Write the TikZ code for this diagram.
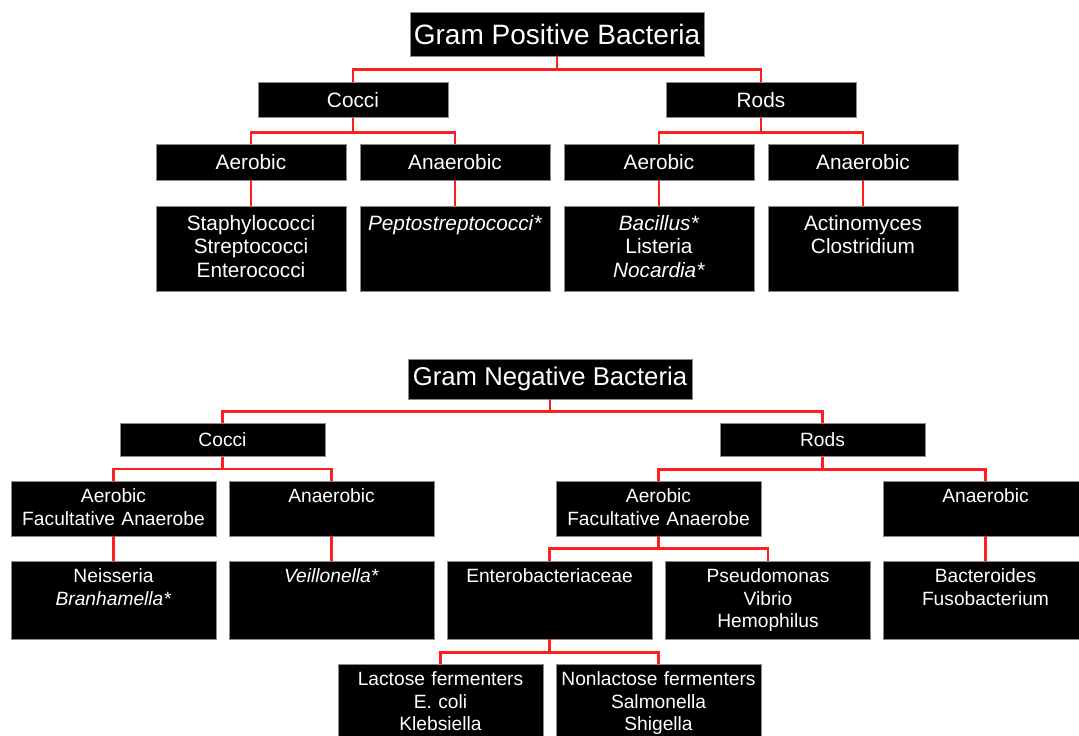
\documentclass[tikz,border=0pt]{standalone}
\usepackage{fontspec}
\setmainfont{Liberation Sans}
\definecolor{gramRed}{HTML}{FF1E1E}
\definecolor{gramEdge}{HTML}{8A8A8A}

\begin{document}
\begin{tikzpicture}[x=1pt, y=-1pt,
		box/.style={draw=gramEdge, line width=0.6pt, fill=black, text=white, inner sep=0pt},
		ptitle/.style={box, minimum width=294pt, minimum height=44pt, font=\fontsize{28}{32}\selectfont},
		ntitle/.style={box, minimum width=284pt, minimum height=40pt, font=\fontsize{25.7}{30}\selectfont},
		pbox/.style={box, minimum width=190pt, font=\fontsize{20.8}{24}\selectfont},
		nbox/.style={box, minimum width=205pt, font=\fontsize{19.2}{22.5}\selectfont},
		ptext/.style={text=white, text width=186pt, align=center, anchor=base, inner sep=0pt, font=\fontsize{20.8}{23.6}\selectfont},
		ntext/.style={text=white, text width=201pt, align=center, anchor=base, inner sep=0pt, font=\fontsize{19.2}{22.5}\selectfont},
		link/.style={gramRed, line width=2.4pt}]
		\clip (0,0) rectangle (1079,736);
		\node[ptitle] (gpb) at (557,34) {Gram Positive Bacteria};
		\node[pbox, minimum height=35pt] (pcocci) at (353,100) {Cocci};
		\node[pbox, minimum height=35pt] (prods) at (761,100) {Rods};
		\foreach \n/\x/\t in {paer/251/Aerobic, pana/455/Anaerobic, praer/659/Aerobic, prana/863/Anaerobic}
			\node[pbox, minimum height=36pt] (\n) at (\x,162) {\t};
		\foreach \n/\x/\t in {pstaph/251/{Staphylococci\\Streptococci\\Enterococci},
				ppep/455/{\textit{Peptostreptococci*}},
				pbac/659/{\textit{Bacillus*}\\Listeria\\\textit{Nocardia*}},
				pact/863/{Actinomyces\\Clostridium}}{
			\node[pbox, minimum height=85pt] (\n) at (\x,249) {};
			\node[ptext] (\n-t) at ([yshift=-24pt]\n.north) {\t};
		}
		\node[ntitle] (gnb) at (550,379) {Gram Negative Bacteria};
		\node[nbox, minimum height=33pt] (ncocci) at (222.5,440) {Cocci};
		\node[nbox, minimum height=33pt] (nrods) at (822.5,440) {Rods};
		\foreach \n/\x/\y/\h/\t in {naer/113.5/508.5/55/{Aerobic\\Facultative Anaerobe},
				nana/331.5/508.5/55/Anaerobic,
				nraer/658.5/508.5/55/{Aerobic\\Facultative Anaerobe},
				nrana/985.5/508.5/55/Anaerobic,
				nneis/113.5/600/78/{Neisseria\\\textit{Branhamella*}},
				nveil/331.5/600/78/{\textit{Veillonella*}},
				nent/549.5/600/78/Enterobacteriaceae,
				npseu/768/600/78/{Pseudomonas\\Vibrio\\Hemophilus},
				nbact/985.5/600/78/{Bacteroides\\Fusobacterium},
				nlac/440.5/703/78/{Lactose fermenters\\E. coli\\Klebsiella},
				nnon/658.5/703/78/{Nonlactose fermenters\\Salmonella\\Shigella}}{
			\node[nbox, minimum height=\h pt] (\n) at (\x,\y) {};
			\node[ntext] (\n-t) at ([yshift=-22pt]\n.north) {\t};
		}
		\foreach \p/\c/\d in {gpb/pcocci/13, gpb/prods/13, pcocci/paer/14.5, pcocci/pana/14.5,
				prods/praer/14.5, prods/prana/14.5, gnb/ncocci/12, gnb/nrods/12,
				ncocci/naer/12, ncocci/nana/12, nrods/nraer/12.5, nrods/nrana/12.5,
				nraer/nent/12, nraer/npseu/12, nent/nlac/13, nent/nnon/13}
			\draw[link] (\p.south) -- ++(0,\d) -| (\c.north);
		\foreach \p/\c in {paer/pstaph, pana/ppep, praer/pbac, prana/pact, naer/nneis, nana/nveil, nrana/nbact}
			\draw[link] (\p.south) -- (\c.north);
	\end{tikzpicture}
\end{document}
